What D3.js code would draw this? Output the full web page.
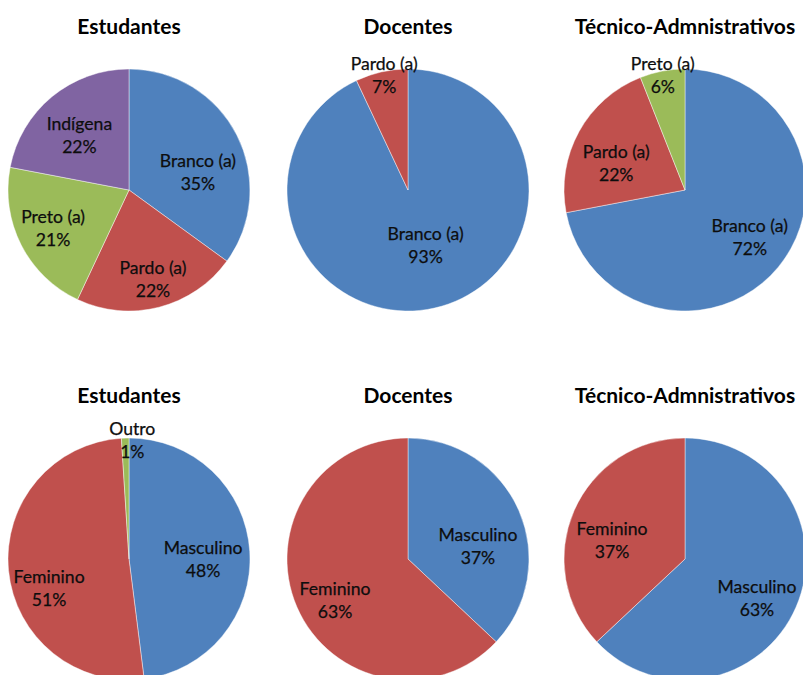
<!DOCTYPE html>
<html>
<head>
<meta charset="utf-8">
<script src="https://cdn.jsdelivr.net/npm/d3@7"></script>
<style>
  html, body { margin: 0; padding: 0; background: #fff; }
  svg { display: block; }
  text { font-family: "Lato", "Noto Sans", sans-serif; }
</style>
</head>
<body>
<svg id="chart" width="803" height="675"></svg>
<script>
// Group titles (one per column)
const groupTitles = ["Estudantes", "Docentes", "Técnico-Admnistrativos"];

// Race / colour breakdown (percent)
const racaEstudantesCats = ["Branco (a)", "Pardo (a)", "Preto (a)", "Indígena"];
const racaEstudantesVals = [35, 22, 21, 22];
const racaDocentesCats = ["Branco (a)", "Pardo (a)"];
const racaDocentesVals = [93, 7];
const racaTecnicosCats = ["Branco (a)", "Pardo (a)", "Preto (a)"];
const racaTecnicosVals = [72, 22, 6];

// Sex breakdown (percent)
const sexoEstudantesCats = ["Masculino", "Feminino", "Outro"];
const sexoEstudantesVals = [48, 51, 1];
const sexoDocentesCats = ["Masculino", "Feminino"];
const sexoDocentesVals = [37, 63];
const sexoTecnicosCats = ["Masculino", "Feminino"];
const sexoTecnicosVals = [63, 37];

// Slice palette, in series order
const palette = ["#4F81BD", "#C0504D", "#9BBB59", "#8064A2"];

// Layout
const colX = [129, 408, 685];
const rowY = [190, 559];
const titleY = [25, 394];
const radius = 121;

// Fine adjustments of label blocks (px), by row, column, slice
const labelNudge = [
  [ [[1, 17], [5, 15], [-8, 3], [-1, 4]],
    [[1, -19], [2, 1]],
    [[6, -2], [-2, 10], [0, 1]] ],
  [ [[-2, 5], [-4, 22], [7, 0]],
    [[0, 17], [-3, 11]],
    [[2, 9], [-3, 11]] ]
];

const charts = [
  { row: 0, col: 0, cats: racaEstudantesCats, vals: racaEstudantesVals },
  { row: 0, col: 1, cats: racaDocentesCats, vals: racaDocentesVals },
  { row: 0, col: 2, cats: racaTecnicosCats, vals: racaTecnicosVals },
  { row: 1, col: 0, cats: sexoEstudantesCats, vals: sexoEstudantesVals },
  { row: 1, col: 1, cats: sexoDocentesCats, vals: sexoDocentesVals },
  { row: 1, col: 2, cats: sexoTecnicosCats, vals: sexoTecnicosVals }
];

const svg = d3.select("#chart");
const color = d3.scaleOrdinal().domain(d3.range(palette.length)).range(palette);
const pie = d3.pie().sort(null).value(d => d.value);
const arc = d3.arc().innerRadius(0).outerRadius(radius);

charts.forEach(c => {
  const cx = colX[c.col], cy = rowY[c.row];

  svg.append("text")
    .attr("x", cx)
    .attr("y", titleY[c.row])
    .attr("text-anchor", "middle")
    .attr("dominant-baseline", "central")
    .attr("font-size", 21)
    .attr("font-weight", "bold")
    .attr("fill", "#000")
    .text(groupTitles[c.col]);

  const data = c.vals.map((v, i) => ({ name: c.cats[i], value: v, idx: i }));
  const arcs = pie(data);
  const g = svg.append("g").attr("transform", `translate(${cx},${cy})`);

  g.selectAll("path")
    .data(arcs)
    .join("path")
    .attr("d", arc)
    .attr("fill", d => color(d.data.idx))
    .attr("stroke", "rgba(255,255,255,0.55)")
    .attr("stroke-width", 0.8);

  const total = d3.sum(c.vals);
  arcs.forEach((d, i) => {
    const mid = (d.startAngle + d.endAngle) / 2;
    const share = d.data.value / total;
    const dist = radius * (share < 0.1 ? 0.98 : 0.63);
    const nudge = labelNudge[c.row][c.col][i];
    const lx = Math.sin(mid) * dist + nudge[0];
    const ly = -Math.cos(mid) * dist + nudge[1];
    const t = g.append("text")
      .attr("text-anchor", "middle")
      .attr("font-size", 17.6)
      .attr("fill", "#0d0d0d")
      .attr("stroke", "#0d0d0d")
      .attr("stroke-width", 0.25);
    t.append("tspan")
      .attr("x", lx).attr("y", ly - 11.5)
      .attr("dominant-baseline", "central")
      .text(d.data.name);
    t.append("tspan")
      .attr("x", lx).attr("y", ly + 11.5)
      .attr("dominant-baseline", "central")
      .text(d.data.value + "%");
  });
});
</script>
</body>
</html>
